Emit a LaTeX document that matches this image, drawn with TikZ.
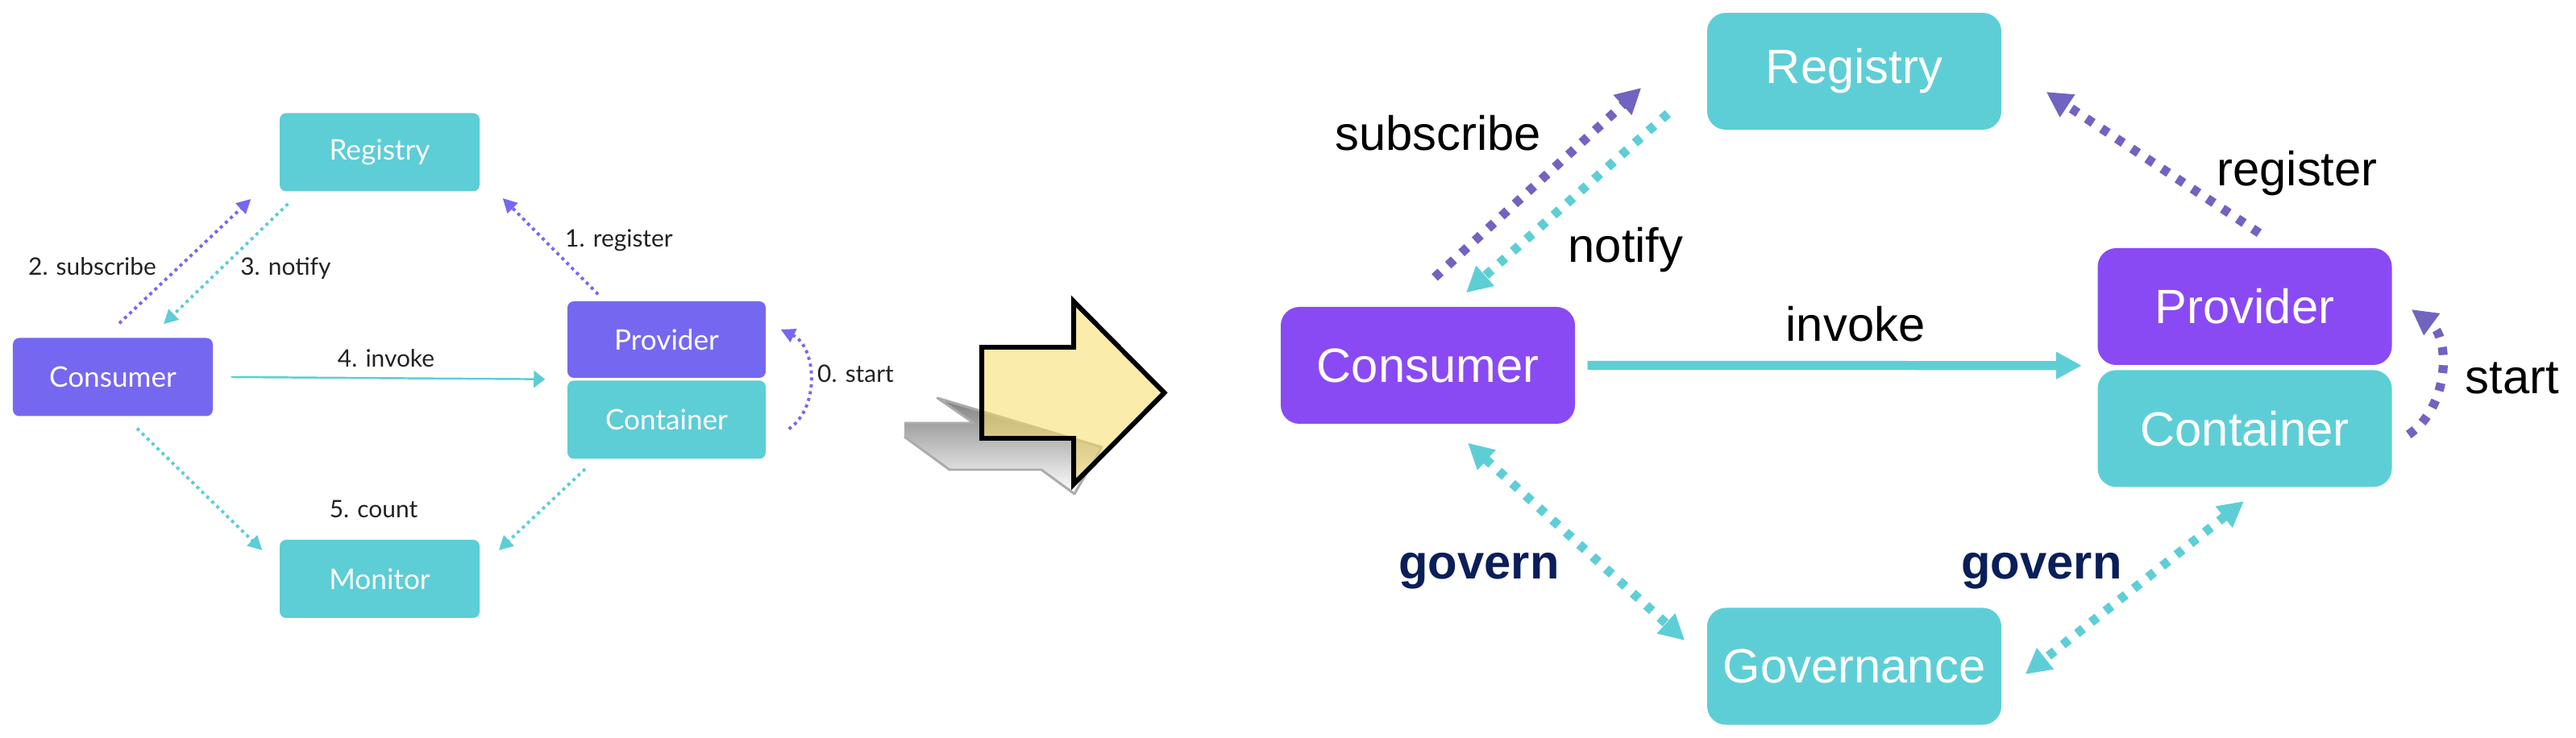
\documentclass[tikz,border=0pt]{standalone}
\usepackage{fontspec}
\setmainfont{Liberation Sans}
\newfontfamily\latofont{Lato}
\usetikzlibrary{positioning,arrows.meta}

\definecolor{lpurple}{RGB}{117,104,240}
\definecolor{lteal}{RGB}{93,205,214}
\definecolor{ltext}{RGB}{34,34,34}
\definecolor{rpurple}{RGB}{138,74,243}
\definecolor{rteal}{RGB}{94,206,214}
\definecolor{darrow}{RGB}{112,100,192}
\definecolor{navy}{RGB}{10,30,90}
\definecolor{shade}{RGB}{211,211,211}
\definecolor{shadeline}{RGB}{171,171,171}
\definecolor{pale}{RGB}{246,220,100}

\begin{document}
\begin{tikzpicture}[
  lbox/.style={fill=lteal, rounded corners=0.08cm, minimum width=2.48cm, minimum height=0.97cm, inner sep=0pt, text=white, font=\latofont\fontsize{10}{12}\selectfont},
  rbox/.style={fill=rteal, rounded corners=0.23cm, minimum width=3.65cm, minimum height=1.45cm, inner sep=0pt, text=white, font=\fontsize{17}{20}\selectfont},
  ltxt/.style={anchor=base, inner sep=0pt, text=ltext, font=\latofont\fontsize{8.5}{10}\selectfont},
  rtxt/.style={anchor=base, inner sep=0pt, font=\fontsize{17}{20}\selectfont},
  ldot/.style={line width=1.1pt, dash pattern=on 1.1pt off 1.35pt, -{Triangle[length=5pt,width=5pt]}},
  rdot/.style={line width=3.2pt, dash pattern=on 2.8pt off 3.6pt},
  rtip/.style={-{Triangle[length=9pt,width=9pt]}},
  rtips/.style={{Triangle[length=9pt,width=9pt]}-{Triangle[length=9pt,width=9pt]}},
]
\useasboundingbox (0,0) rectangle (31.96,-9.16);

% old architecture
\node[lbox] (lreg) at (4.71,-1.89) {Registry};
\node[lbox, fill=lpurple] (lcons) at (1.40,-4.68) {Consumer};
\node[lbox, fill=lpurple, minimum width=2.46cm, minimum height=0.95cm] (lprov) at (8.27,-4.215) {Provider};
\node[lbox, minimum width=2.46cm, below=0.02cm of lprov] (lcont) {Container};
\node[lbox] (lmon) at (4.71,-7.185) {Monitor};

\draw[ldot, lpurple] ([xshift=0.08cm,yshift=0.175cm]lcons.north) -- ([xshift=-0.35cm,yshift=-0.58cm]lreg.west);
\draw[ldot, lteal] ([xshift=0.11cm,yshift=-0.64cm]lreg.west) -- ([xshift=0.63cm,yshift=0.165cm]lcons.north);
\draw[ldot, lpurple] ([xshift=-0.85cm,yshift=0.08cm]lprov.north) -- ([xshift=0.28cm,yshift=-0.57cm]lreg.east);
\draw[lteal, line width=0.7pt, -{Triangle[length=4pt,width=6pt]}] ([xshift=0.22cm]lcons.east) -- ([xshift=-0.27cm,yshift=-0.01cm]lprov.south west);
\draw[ldot, lpurple] ([xshift=0.28cm,yshift=-0.115cm]lcont.east) to[bend right=60] ([xshift=0.18cm,yshift=0.125cm]lprov.east);
\draw[ldot, lteal] ([xshift=0.30cm,yshift=-0.145cm]lcons.south) -- ([xshift=-0.21cm,yshift=0.355cm]lmon.west);
\draw[ldot, lteal] ([xshift=-1.01cm,yshift=-0.12cm]lcont.south) -- ([xshift=0.23cm,yshift=0.355cm]lmon.east);

\node[ltxt] (lsub) at (1.145,-3.42) {2. subscribe};
\node[ltxt] (lnot) at (3.545,-3.42) {3. notify};
\node[ltxt] (lregl) at (7.68,-3.07) {1. register};
\node[ltxt] (linv) at (4.79,-4.56) {4. invoke};
\node[ltxt] (lcnt) at (4.635,-6.43) {5. count};
\node[ltxt] (lsta) at (10.615,-4.75) {0. start};

% big arrow with its shadow
\fill[shade] (11.22,-5.25) -- (12.08,-5.25) -- (11.63,-4.94) -- (13.67,-5.55) -- (13.33,-6.13) -- (12.92,-5.83) -- (11.78,-5.83) -- (11.22,-5.42) -- cycle;
\draw[shadeline, line width=0.85pt, line join=round] (11.22,-5.42) -- (11.78,-5.83) -- (12.92,-5.83) -- (13.33,-6.13) -- (13.67,-5.55) -- (11.63,-4.94) -- (12.08,-5.25) -- (11.22,-5.25);
\filldraw[fill=pale, fill opacity=0.55, draw=black, line width=1.7pt] (12.18,-4.31) -- (13.32,-4.31) -- (13.32,-3.74) -- (14.445,-4.875) -- (13.32,-6.01) -- (13.32,-5.44) -- (12.18,-5.44) -- cycle;

% new architecture
\node[rbox] (rreg) at (23.005,-0.885) {Registry};
\node[rbox, fill=rpurple] (rcons) at (17.715,-4.535) {Consumer};
\node[rbox, fill=rpurple] (rprov) at (27.85,-3.805) {Provider};
\node[rbox, below=0.05cm of rprov] (rcont) {Container};
\node[rbox] (rgov) at (23.005,-8.27) {Governance};

\draw[rdot, rtip, darrow] ([xshift=0.085cm,yshift=0.36cm]rcons.north) -- ([xshift=-0.81cm,yshift=-0.205cm]rreg.west);
\draw[rdot, rtip, rteal] ([xshift=-0.48cm,yshift=-0.525cm]rreg.west) -- ([xshift=0.475cm,yshift=0.17cm]rcons.north);
\draw[rdot, rtip, darrow] ([xshift=0.18cm,yshift=0.18cm]rprov.north) -- ([xshift=0.55cm,yshift=-0.255cm]rreg.east);
\draw[rteal, line width=3.2pt, -{Triangle[length=9pt,width=9pt]}] ([xshift=0.15cm]rcons.east) -- ([xshift=-0.19cm]rprov.south west);
\draw[rdot, rtip, darrow] ([xshift=0.2cm,yshift=-0.075cm]rcont.east) to[bend right=55] ([xshift=0.235cm,yshift=-0.035cm]rprov.east);
\draw[rdot, rtips, rteal] ([xshift=0.495cm,yshift=-0.23cm]rcons.south) -- ([xshift=-0.27cm,yshift=0.32cm]rgov.west);
\draw[rdot, rtips, rteal] ([xshift=-0.01cm,yshift=-0.17cm]rcont.south) -- ([xshift=0.29cm,yshift=-0.10cm]rgov.east);

\node[rtxt] (rsub) at (17.84,-1.87) {subscribe};
\node[rtxt] (rnot) at (20.17,-3.26) {notify};
\node[rtxt] (rinv) at (23.02,-4.24) {invoke};
\node[rtxt] (rregl) at (28.50,-2.31) {register};
\node[rtxt] (rsta) at (31.17,-4.89) {start};
\node[rtxt, text=navy, font=\bfseries\fontsize{17}{20}\selectfont] (rgovl) at (18.35,-7.19) {govern};
\node[rtxt, text=navy, font=\bfseries\fontsize{17}{20}\selectfont] (rgovr) at (25.33,-7.19) {govern};
\end{tikzpicture}
\end{document}
